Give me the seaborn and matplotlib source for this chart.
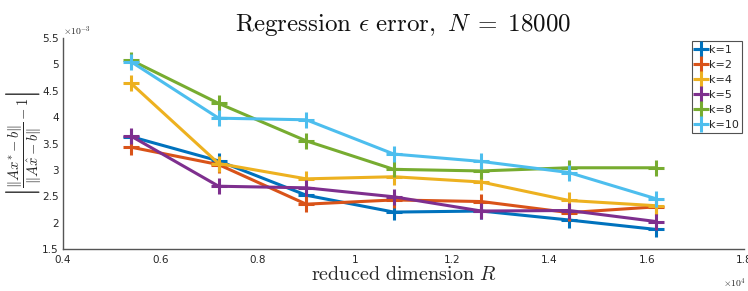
import matplotlib
matplotlib.use("Agg")
import matplotlib.pyplot as plt
import seaborn as sns
import pandas as pd

# Data (x in units of 1e4, y in units of 1e-3)
R = [0.54, 0.72, 0.90, 1.08, 1.26, 1.44, 1.62]
k1 = [3.63, 3.17, 2.52, 2.20, 2.22, 2.05, 1.87]
k2 = [3.43, 3.10, 2.35, 2.43, 2.40, 2.19, 2.30]
k4 = [4.64, 3.12, 2.83, 2.87, 2.77, 2.42, 2.32]
k5 = [3.64, 2.69, 2.66, 2.49, 2.22, 2.23, 2.02]
k8 = [5.08, 4.26, 3.55, 3.01, 2.98, 3.04, 3.04]
k10 = [5.05, 3.98, 3.95, 3.30, 3.16, 2.95, 2.45]
labels = ["k=1", "k=2", "k=4", "k=5", "k=8", "k=10"]
series = [k1, k2, k4, k5, k8, k10]
colors = ["#0072BD", "#D95319", "#EDB120", "#7E2F8E", "#77AC30", "#4DBEEE"]
xticks = [0.4, 0.6, 0.8, 1.0, 1.2, 1.4, 1.6, 1.8]
xticklabels = ["0.4", "0.6", "0.8", "1", "1.2", "1.4", "1.6", "1.8"]
yticks = [1.5, 2, 2.5, 3, 3.5, 4, 4.5, 5, 5.5]
yticklabels = ["1.5", "2", "2.5", "3", "3.5", "4", "4.5", "5", "5.5"]

sns.set_style("white")
plt.rcParams["font.family"] = ["DejaVu Sans"]
plt.rcParams["mathtext.fontset"] = "cm"

fig = plt.figure(figsize=(7.48, 2.91), dpi=100)
ax = fig.add_axes([0.0842, 0.1443, 0.9105, 0.7251])

for lab, vals, c in zip(labels, series, colors):
    d = pd.DataFrame({"R": R, "err": vals})
    sns.lineplot(data=d, x="R", y="err", color=c, marker="+",
                 markersize=12, markeredgewidth=2.2, markeredgecolor=c,
                 linewidth=2.2, ax=ax, label=lab)

axc = "#555555"
ax.set_xlim(0.4, 1.8)
ax.set_ylim(1.5, 5.5)
ax.set_xticks(xticks)
ax.set_xticklabels(xticklabels)
ax.set_yticks(yticks)
ax.set_yticklabels(yticklabels)
ax.tick_params(direction="in", length=4, width=0.8, colors=axc,
               labelsize=7.5, labelcolor="#262626")
ax.tick_params(axis="x", pad=4)
ax.tick_params(axis="y", pad=3)
for s in ["top", "right"]:
    ax.spines[s].set_visible(False)
for s in ["left", "bottom"]:
    ax.spines[s].set_color(axc)
    ax.spines[s].set_linewidth(1.0)

ax.set_title(r"$\mathrm{Regression}\ \epsilon\ \mathrm{error},\ N\;=\;18000$",
             fontsize=18, color="#111111", pad=5)
ax.set_xlabel(r"$\mathrm{reduced\ dimension}\ R$", fontsize=14.5,
              color="#262626", labelpad=0)
ax.set_ylabel(r"$\left|\dfrac{\|Ax^{*}-b\|}{\|A\hat{x}-b\|}-1\right|$",
              fontsize=10.5, color="#262626", labelpad=-1)

ax.text(0.0, 1.0, r"$\times10^{-3}$", transform=ax.transAxes,
        fontsize=7, color="#262626", ha="left", va="bottom")
ax.text(1.003, -0.13, r"$\times10^{4}$", transform=ax.transAxes,
        fontsize=7, color="#262626", ha="right", va="top")

leg = ax.legend(loc="upper right", bbox_to_anchor=(0.997, 0.985),
                fontsize=8, handlelength=1.1, handletextpad=0.15,
                borderpad=0.3, labelspacing=0.45, borderaxespad=0,
                frameon=True, fancybox=False, edgecolor="#262626")
leg.get_frame().set_linewidth(0.8)

fig.savefig("out.png", dpi=100)
